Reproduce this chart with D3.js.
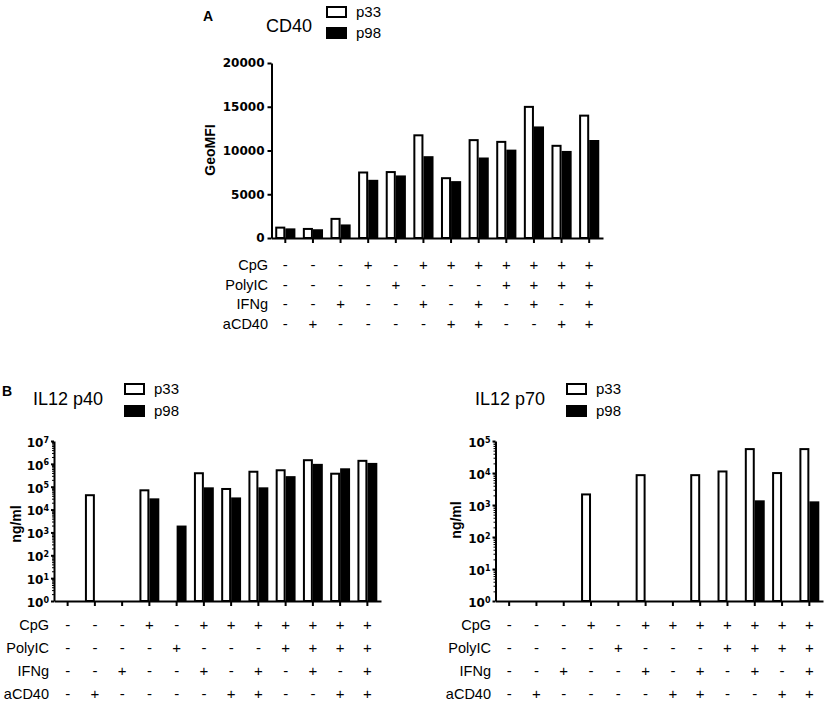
<!DOCTYPE html>
<html>
<head>
<meta charset="utf-8">
<script src="https://cdn.jsdelivr.net/npm/d3@7"></script>
<style>
body { margin: 0; background: #fff; }
text { font-family: "Liberation Sans", Arial, sans-serif; fill: #000; }
.axis path, .axis line { stroke: #000; stroke-width: 2; }
.axis .tick text { font-family: "DejaVu Sans", sans-serif; font-weight: bold; }
</style>
</head>
<body>
<svg id="chart" width="827" height="707"></svg>
<script>
// treatment table, same for all three panels
const treatments = ["CpG", "PolyIC", "IFNg", "aCD40"]
const cpg    = ["-","-","-","+","-","+","+","+","+","+","+","+"]
const polyic = ["-","-","-","-","+","-","-","-","+","+","+","+"]
const ifng   = ["-","-","+","-","-","+","-","+","-","+","-","+"]
const acd40  = ["-","+","-","-","-","-","+","+","-","-","+","+"]
const series = ["p33", "p98"]

// A - CD40 GeoMFI
const cd40P33 = [1300, 1150, 2300, 7600, 7650, 11850, 6950, 11300, 11100, 15100, 10650, 14100]
const cd40P98 = [1100, 1000, 1550, 6650, 7150, 9350, 6500, 9200, 10100, 12750, 9950, 11200]
const cd40Ticks = [0, 5000, 10000, 15000, 20000]

// B - IL12 p40 (ng/ml), null = no bar
const p40P33 = [null, 4.7e4, null, 7.7e4, null, 4.3e5, 8.8e4, 5.0e5, 5.8e5, 1.6e6, 4.1e5, 1.5e6]
const p40P98 = [null, null, null, 3.1e4, 2.0e3, 9.4e4, 3.4e4, 9.4e4, 2.9e5, 1.0e6, 6.4e5, 1.1e6]
const p40Ticks = [1, 1e1, 1e2, 1e3, 1e4, 1e5, 1e6, 1e7]

// B - IL12 p70 (ng/ml)
const p70P33 = [null, null, null, 2.3e3, null, 9.2e3, null, 9.2e3, 1.2e4, 6.0e4, 1.07e4, 6.0e4]
const p70P98 = [null, null, null, null, null, null, null, null, null, 1.4e3, null, 1.3e3]
const p70Ticks = [1, 1e1, 1e2, 1e3, 1e4, 1e5]

const svg = d3.select("#chart")
const groupIdx = d3.range(cpg.length)
const tableRows = [cpg, polyic, ifng, acd40]

const drawBars = (x, y, p33, p98) => {
    let sub = d3.scaleBand().domain(series).range([0, x.bandwidth()])
    let base = y.range()[0]
    let barData = groupIdx.flatMap(i => [{i, s: "p33", v: p33[i]}, {i, s: "p98", v: p98[i]}])
        .filter(d => d.v != null)

    svg.append("g").selectAll("rect")
        .data(barData)
        .join("rect")
        .attr("x", d => x(d.i) + sub(d.s) + 1)
        .attr("width", sub.bandwidth() - 2)
        .attr("y", d => y(d.v) + 1)
        .attr("height", d => base - y(d.v) - 1)
        .attr("fill", d => d.s === "p33" ? "#fff" : "#000")
        .attr("stroke", "#000")
        .attr("stroke-width", 2)
}

const drawXAxis = (x, y) => {
    svg.append("g")
        .attr("class", "axis")
        .attr("transform", "translate(0," + y.range()[0] + ")")
        .call(d3.axisBottom(x).tickSize(5).tickSizeOuter(0).tickFormat(""))
}

const drawTable = (x, labelX, firstY, rowStep) => {
    tableRows.forEach((row, r) => {
        let yy = firstY + r * rowStep
        svg.append("text")
            .attr("x", labelX).attr("y", yy)
            .attr("text-anchor", "end")
            .style("font-size", "14.5px")
            .text(treatments[r])
        svg.append("g").selectAll("text")
            .data(row)
            .join("text")
            .attr("x", (d, i) => x(i) + x.bandwidth() / 2)
            .attr("y", yy)
            .attr("text-anchor", "middle")
            .style("font-size", "15px")
            .text(d => d)
    })
}

const drawTitle = (letter, lx, ly, title, tx, ty, legX, legY, legStep) => {
    svg.append("text").attr("x", lx).attr("y", ly)
        .style("font-size", "14px").style("font-weight", "bold")
        .text(letter)
    svg.append("text").attr("x", tx).attr("y", ty)
        .style("font-size", "18px")
        .text(title)
    series.forEach((s, k) => {
        svg.append("rect")
            .attr("x", legX + 1).attr("y", legY + k * legStep + 1)
            .attr("width", 19).attr("height", 10)
            .attr("fill", k === 0 ? "#fff" : "#000")
            .attr("stroke", "#000").attr("stroke-width", 2)
        svg.append("text")
            .attr("x", legX + 30).attr("y", legY + k * legStep + 11)
            .style("font-size", "15px")
            .text(s)
    })
}

const drawYLabel = (label, x, y) => {
    svg.append("text")
        .attr("transform", "translate(" + x + "," + y + ") rotate(-90)")
        .attr("text-anchor", "middle")
        .style("font-size", "14px").style("font-weight", "bold")
        .text(label)
}

// ---------- A ----------
let xA = d3.scaleBand().domain(groupIdx).range([271.5, 603]).paddingInner(0.27).paddingOuter(0.135)
let yA = d3.scaleLinear().domain([0, 20000]).range([238, 63])

drawBars(xA, yA, cd40P33, cd40P98)
drawXAxis(xA, yA)
svg.append("g")
    .attr("class", "axis")
    .attr("transform", "translate(271.5,0)")
    .call(d3.axisLeft(yA).tickValues(cd40Ticks).tickSize(4).tickSizeOuter(0).tickPadding(3).tickFormat(d3.format("d")))
    .selectAll(".tick text").style("font-size", "12px")
drawYLabel("GeoMFI", 215, 150)
drawTable(xA, 268, 270, 19.7)
drawTitle("A", 203, 21, "CD40", 266, 32, 326, 6, 21)

// ---------- B log panels ----------
const drawLogPanel = (x, y, p33, p98, ticks) => {
    let x0 = x.range()[0]
    drawBars(x, y, p33, p98)
    drawXAxis(x, y)

    let minor = []
    ticks.slice(0, -1).forEach(t => d3.range(2, 10).forEach(m => minor.push(t * m)))
    svg.append("g")
        .attr("class", "axis")
        .attr("transform", "translate(" + x0 + ",0)")
        .call(d3.axisLeft(y).tickValues(minor).tickSize(2).tickFormat(""))
        .call(g => g.select(".domain").remove())
        .selectAll("line").style("stroke-width", 1)

    let ax = svg.append("g")
        .attr("class", "axis")
        .attr("transform", "translate(" + x0 + ",0)")
        .call(d3.axisLeft(y).tickValues(ticks).tickSize(3).tickSizeOuter(0).tickPadding(2).tickFormat(""))

    ax.selectAll(".tick text")
        .style("font-size", "12px")
        .each(function (d) {
            let t = d3.select(this)
            t.attr("dy", "0.45em")
            t.append("tspan").text("10")
            t.append("tspan")
                .attr("dy", "-0.55em")
                .style("font-size", "8px")
                .text(Math.round(Math.log10(d)))
        })
}

let xB1 = d3.scaleBand().domain(groupIdx).range([54, 381]).paddingInner(0.27).paddingOuter(0.135)
let yB1 = d3.scaleLog().domain([1, 1e7]).range([601, 441])
drawLogPanel(xB1, yB1, p40P33, p40P98, p40Ticks)
drawYLabel("ng/ml", 21, 524)
drawTable(xB1, 49, 630, 23)
drawTitle("B", 2, 396, "IL12 p40", 33, 405, 124, 383, 22)

let xB2 = d3.scaleBand().domain(groupIdx).range([495.5, 823]).paddingInner(0.27).paddingOuter(0.135)
let yB2 = d3.scaleLog().domain([1, 1e5]).range([601, 441])
drawLogPanel(xB2, yB2, p70P33, p70P98, p70Ticks)
drawYLabel("ng/ml", 461, 520)
drawTable(xB2, 491, 630, 23)
drawTitle("", 0, 0, "IL12 p70", 475, 405, 566, 383, 22)
</script>
</body>
</html>
